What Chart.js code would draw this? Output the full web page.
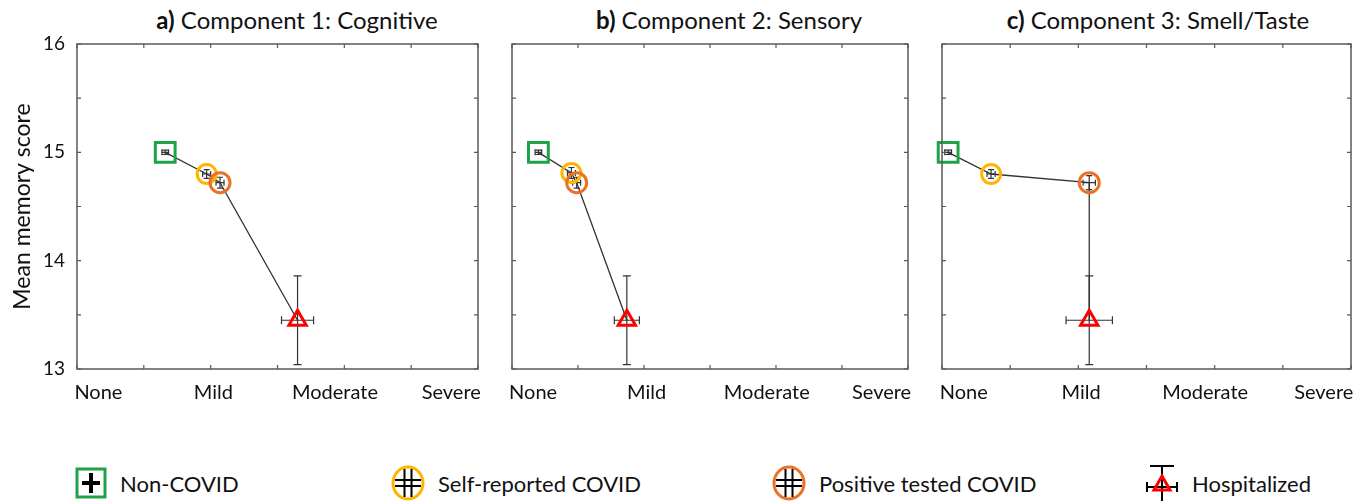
<!DOCTYPE html>
<html>
<head>
<meta charset="utf-8">
<script src="https://cdn.jsdelivr.net/npm/chart.js@4.4.1/dist/chart.umd.min.js"></script>
<style>
    body { margin: 0; background: #fff; font-family: Lato, sans-serif; }
    #wrap { position: relative; width: 1372px; height: 503px; overflow: hidden; }
    .panel { position: absolute; top: 0; }
    .ttl { position: absolute; top: 5px; font-size: 24px; color: #111; white-space: nowrap; transform: translateX(-50%); }
    .leg { position: absolute; top: 465px; height: 36px; display: flex; align-items: center; font-size: 22px; color: #111; white-space: nowrap; }
    .leg canvas { margin-right: 12px; }
</style>
</head>
<body>
<div id="wrap">
    <div class="ttl" style="left:297px"><b>a)</b> Component 1: Cognitive</div>
    <div class="ttl" style="left:729px"><b>b)</b> Component 2: Sensory</div>
    <div class="ttl" style="left:1158px"><b>c)</b> Component 3: Smell/Taste</div>

    <div class="panel" style="left:0px"><canvas id="chartA" width="495" height="420"></canvas></div>
    <div class="panel" style="left:495px"><canvas id="chartB" width="430" height="420"></canvas></div>
    <div class="panel" style="left:925px"><canvas id="chartC" width="447" height="420"></canvas></div>

    <div class="leg" style="left:74px"><canvas id="lg0" width="34" height="36"></canvas><span id="lt0"></span></div>
    <div class="leg" style="left:390px"><canvas id="lg1" width="36" height="36"></canvas><span id="lt1"></span></div>
    <div class="leg" style="left:771px"><canvas id="lg2" width="36" height="36"></canvas><span id="lt2"></span></div>
    <div class="leg" style="left:1144px"><canvas id="lg3" width="36" height="36"></canvas><span id="lt3"></span></div>
</div>

<script>
// ---------- dados ----------
const severityLabels = ['None', 'Mild', 'Moderate', 'Severe'];
const severityPos = [0.16, 1.02, 1.93, 2.8];
const groupNames = ['Non-COVID', 'Self-reported COVID', 'Positive tested COVID', 'Hospitalized'];

// a) Component 1: Cognitive
const cogX = [0.66, 0.97, 1.07, 1.65];
const cogY = [15.0, 14.8, 14.72, 13.45];
const cogXErr = [0.025, 0.03, 0.03, 0.12];
const cogYErr = [0.02, 0.04, 0.05, 0.41];

// b) Component 2: Sensory
const sensX = [0.2, 0.45, 0.49, 0.87];
const sensY = [15.0, 14.81, 14.72, 13.45];
const sensXErr = [0.025, 0.03, 0.03, 0.095];
const sensYErr = [0.02, 0.05, 0.05, 0.41];

// c) Component 3: Smell/Taste
const smellX = [0.045, 0.36, 1.08, 1.08];
const smellY = [15.0, 14.8, 14.72, 13.45];
const smellXErr = [0.025, 0.03, 0.045, 0.17];
const smellYErr = [0.02, 0.04, 0.065, 0.41];

const groupColors = ['#1ea34a', '#ffb400', '#ea7125', '#ff0000'];
const groupStyles = ['rect', 'circle', 'circle', 'triangle'];
const groupRadius = [14, 9.5, 10, 10];

const FONT = 'Lato, sans-serif';

// caixa + marcas de escala para dentro
const framePlugin = {
    id: 'frame',
    afterDraw(chart) {
        const { ctx, chartArea: a, scales } = chart;
        ctx.save();
        ctx.strokeStyle = '#595959';
        ctx.lineWidth = 1.5;
        ctx.strokeRect(a.left, a.top, a.right - a.left, a.bottom - a.top);
        ctx.lineWidth = 1.2;
        ctx.beginPath();
        scales.x.ticks.forEach(t => {
            const px = scales.x.getPixelForValue(t.value);
            ctx.moveTo(px, a.bottom); ctx.lineTo(px, a.bottom - 4);
            ctx.moveTo(px, a.top); ctx.lineTo(px, a.top + 4);
        });
        scales.y.ticks.forEach(t => {
            const py = scales.y.getPixelForValue(t.value);
            ctx.moveTo(a.left, py); ctx.lineTo(a.left + 4, py);
            ctx.moveTo(a.right, py); ctx.lineTo(a.right - 4, py);
        });
        ctx.stroke();
        ctx.restore();
    }
};

// barras de erro
const errorBarPlugin = {
    id: 'errorBars',
    beforeDatasetsDraw(chart, args, opts) {
        const { ctx, scales: { x, y } } = chart;
        const pts = chart.data.datasets[0].data;
        ctx.save();
        ctx.strokeStyle = '#333';
        ctx.lineWidth = 1.2;
        ctx.beginPath();
        pts.forEach((p, i) => {
            const cx = x.getPixelForValue(p.x), cy = y.getPixelForValue(p.y);
            const x0 = x.getPixelForValue(p.x - opts.xErr[i]), x1 = x.getPixelForValue(p.x + opts.xErr[i]);
            const y0 = y.getPixelForValue(p.y - opts.yErr[i]), y1 = y.getPixelForValue(p.y + opts.yErr[i]);
            const cap = i === 3 ? 4 : 3;
            ctx.moveTo(cx, y0); ctx.lineTo(cx, y1);
            ctx.moveTo(cx - cap, y0); ctx.lineTo(cx + cap, y0);
            ctx.moveTo(cx - cap, y1); ctx.lineTo(cx + cap, y1);
            ctx.moveTo(x0, cy); ctx.lineTo(x1, cy);
            ctx.moveTo(x0, cy - cap); ctx.lineTo(x0, cy + cap);
            ctx.moveTo(x1, cy - cap); ctx.lineTo(x1, cy + cap);
        });
        ctx.stroke();
        ctx.restore();
    }
};

function makePanel(id, xs, ys, xErr, yErr, showY, pad) {
    const ctx = document.getElementById(id).getContext('2d');
    return new Chart(ctx, {
        type: 'scatter',
        data: {
            datasets: [{
                data: xs.map((v, i) => ({ x: v, y: ys[i] })),
                showLine: true,
                borderColor: '#333',
                borderWidth: 1.3,
                pointStyle: groupStyles,
                pointRadius: groupRadius,
                pointHoverRadius: groupRadius,
                pointBorderColor: groupColors,
                pointBorderWidth: 3,
                pointBackgroundColor: 'rgba(0,0,0,0)',
                clip: false
            }]
        },
        options: {
            responsive: false,
            animation: false,
            events: [],
            layout: { padding: pad },
            plugins: {
                legend: { display: false },
                tooltip: { enabled: false },
                errorBars: { xErr: xErr, yErr: yErr }
            },
            scales: {
                x: {
                    type: 'linear', position: 'bottom', min: 0, max: 3,
                    ticks: { stepSize: 0.5, display: false },
                    grid: { display: false, drawTicks: false },
                    border: { display: false },
                    afterFit: s => { s.height = 0; }
                },
                xl: {
                    type: 'linear', position: 'bottom', min: 0, max: 3,
                    afterBuildTicks: s => { s.ticks = severityPos.map(v => ({ value: v })); },
                    ticks: {
                        autoSkip: false, maxRotation: 0, padding: 12,
                        color: '#111', font: { family: FONT, size: 20 },
                        callback: (v, i) => severityLabels[i]
                    },
                    grid: { display: false, drawTicks: false },
                    border: { display: false },
                    afterFit: s => { s.height = 51; }
                },
                y: {
                    min: 13, max: 16,
                    ticks: {
                        stepSize: 0.5, display: showY, padding: 12,
                        color: '#111', font: { family: FONT, size: 19 },
                        callback: v => Number.isInteger(v) ? v : ''
                    },
                    title: {
                        display: showY, text: 'Mean memory score',
                        color: '#111', font: { family: FONT, size: 23 },
                        padding: { top: 9, bottom: 0 }
                    },
                    grid: { display: false, drawTicks: false },
                    border: { display: false },
                    afterFit: s => { s.width = showY ? 77 : 0; }
                }
            }
        },
        plugins: [errorBarPlugin, framePlugin]
    });
}

makePanel('chartA', cogX, cogY, cogXErr, cogYErr, true, { top: 44, right: 7, left: 0, bottom: 0 });
makePanel('chartB', sensX, sensY, sensXErr, sensYErr, false, { top: 44, right: 5, left: 13, bottom: 0 });
makePanel('chartC', smellX, smellY, smellXErr, smellYErr, false, { top: 44, right: 21, left: 14, bottom: 0 });

// ---------- legenda ----------
function drawLegendIcon(id, k) {
    const c = document.getElementById(id).getContext('2d');
    const w = c.canvas.width, h = c.canvas.height, cx = w / 2, cy = h / 2;
    c.lineWidth = 3;
    if (k === 0) {
        c.strokeStyle = groupColors[0];
        c.strokeRect(3, 4, w - 6, h - 8);
        c.strokeStyle = '#000'; c.lineWidth = 4;
        c.beginPath();
        c.moveTo(cx, 8); c.lineTo(cx, h - 8);
        c.moveTo(8, cy); c.lineTo(w - 8, cy);
        c.stroke();
    } else if (k === 1 || k === 2) {
        c.strokeStyle = groupColors[k];
        c.beginPath();
        c.ellipse(cx, cy, w / 2 - 3, h / 2 - 2, 0, 0, Math.PI * 2);
        c.stroke();
        c.strokeStyle = '#000'; c.lineWidth = 2;
        c.beginPath();
        c.moveTo(cx - 3.5, 4); c.lineTo(cx - 3.5, h - 4);
        c.moveTo(cx + 3.5, 4); c.lineTo(cx + 3.5, h - 4);
        c.moveTo(5, cy - 3); c.lineTo(w - 5, cy - 3);
        c.moveTo(5, cy + 3); c.lineTo(w - 5, cy + 3);
        c.stroke();
    } else {
        c.strokeStyle = '#000'; c.lineWidth = 2;
        c.beginPath();
        c.moveTo(cx, 1); c.lineTo(cx, h);
        c.moveTo(cx - 12, 1); c.lineTo(cx + 12, 1);
        c.moveTo(3, cy + 4); c.lineTo(w - 3, cy + 4);
        c.moveTo(3, cy - 1); c.lineTo(3, cy + 9);
        c.moveTo(w - 3, cy - 1); c.lineTo(w - 3, cy + 9);
        c.stroke();
        c.strokeStyle = groupColors[3]; c.lineWidth = 3;
        c.beginPath();
        c.moveTo(cx, cy - 7); c.lineTo(cx + 8, cy + 7); c.lineTo(cx - 8, cy + 7); c.closePath();
        c.stroke();
    }
}

groupNames.forEach((name, k) => {
    document.getElementById('lt' + k).textContent = name;
    drawLegendIcon('lg' + k, k);
});
</script>
</body>
</html>
